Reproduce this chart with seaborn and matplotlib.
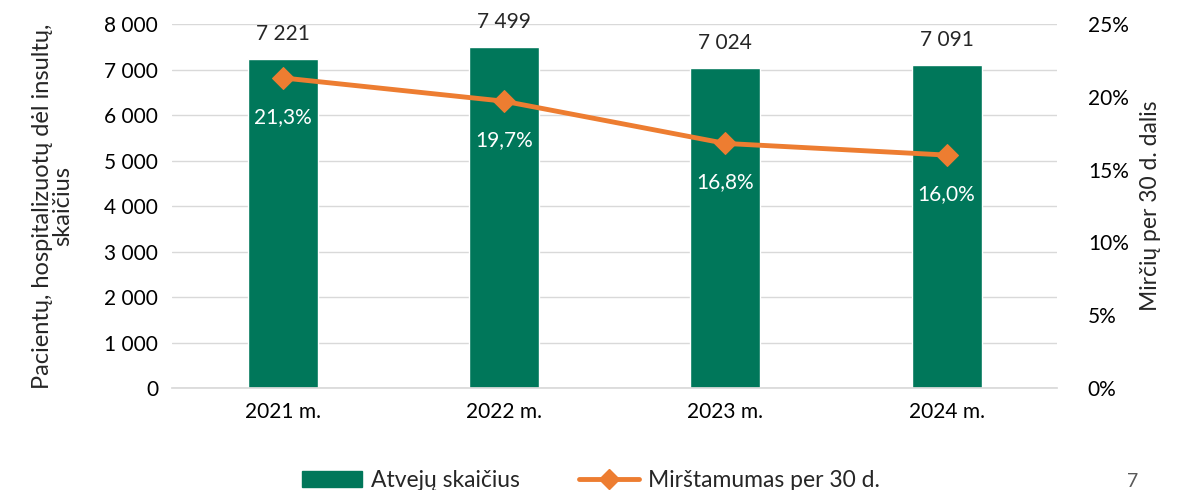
import pandas as pd
import seaborn as sns
import matplotlib.pyplot as plt
from matplotlib.lines import Line2D
from matplotlib.patches import Patch

# data
years = ['2021 m.', '2022 m.', '2023 m.', '2024 m.']
cases = [7221, 7499, 7024, 7091]
mortality = [21.3, 19.7, 16.8, 16.0]

green = '#00775A'
orange = '#ED7D31'

sns.set_theme(style='white')
plt.rcParams['font.family'] = ['Lato', 'DejaVu Sans']

df = pd.DataFrame({'year': years, 'cases': cases, 'mort': mortality})

fig = plt.figure(figsize=(11.82, 4.9), dpi=100)
ax = fig.add_axes([0.1455, 0.208, 0.749, 0.743])

sns.barplot(data=df, x='year', y='cases', color=green, width=0.317,
            saturation=1, ax=ax)
ax.set_xlim(-0.5, 3.5)
ax.set_ylim(0, 8000)
ax.set_yticks(range(0, 8001, 1000))
ax.set_yticklabels([f'{v:,}'.replace(',', ' ') for v in range(0, 8001, 1000)])
ax.yaxis.grid(True, color='#D9D9D9', linewidth=1)
ax.set_axisbelow(True)
for s in ['top', 'right', 'left']:
    ax.spines[s].set_visible(False)
ax.spines['bottom'].set_color('#D9D9D9')
ax.tick_params(axis='both', labelsize=15, colors='black', length=0, pad=10)
ax.set_xlabel('')
ax.set_ylabel('Pacientų, hospitalizuotų dėl insultų,\nskaičius', fontsize=17,
              labelpad=22, linespacing=1.0)

for i, v in enumerate(cases):
    ax.text(i, v + 330, f'{v:,}'.replace(',', ' '), ha='center', va='bottom',
            fontsize=15)

ax2 = ax.twinx()
sns.lineplot(data=df, x='year', y='mort', color=orange, linewidth=3.5,
             marker='D', markersize=11, markeredgecolor=orange, ax=ax2,
             sort=False)
ax2.set_ylim(0, 25)
ax2.set_yticks(range(0, 26, 5))
ax2.set_yticklabels([f'{v}%' for v in range(0, 26, 5)])
for s in ax2.spines.values():
    s.set_visible(False)
ax2.tick_params(axis='y', labelsize=15, colors='black', length=0, pad=22)
ax2.set_xlabel('')
ax2.set_ylabel('Mirčių per 30 d. dalis', fontsize=16.5, labelpad=8)

for i, v in enumerate(mortality):
    ax2.text(i, v - 2.0, f'{v:.1f}%'.replace('.', ','), ha='center',
             va='top', fontsize=15, color='white')

handles = [Patch(color=green),
           Line2D([0], [0], color=orange, linewidth=3.5, marker='D',
                  markersize=10)]
fig.legend(handles, ['Atvejų skaičius', 'Mirštamumas per 30 d.'],
           loc='center', bbox_to_anchor=(0.5, 0.02), ncol=2, frameon=False,
           fontsize=16.5, handlelength=2.6, columnspacing=2.6,
           handletextpad=0.4)

fig.text(0.958, 0.0, '7', fontsize=14, color='#595959', ha='center',
         va='bottom')

fig.savefig('out.png', dpi=100)
